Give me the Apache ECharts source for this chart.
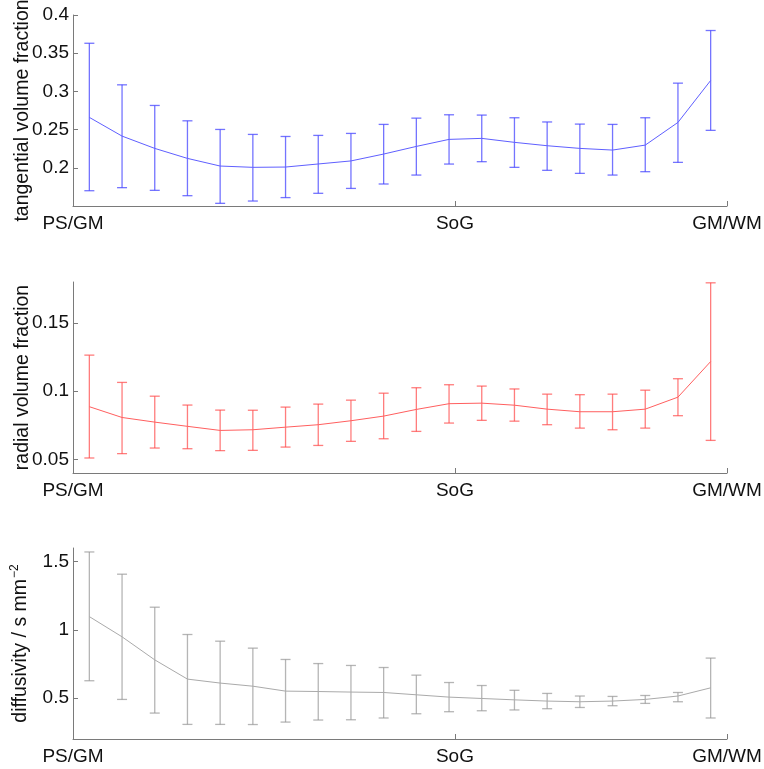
<!DOCTYPE html>
<html>
<head>
<meta charset="utf-8">
<script src="https://cdn.jsdelivr.net/npm/echarts@6/dist/echarts.min.js"></script>
<style>html,body{margin:0;padding:0;background:#fff;}#c{width:764px;height:769px;}</style>
</head>
<body>
<div id="c"></div>
<script>
// positions along the profile (0 = PS/GM, 20 = GM/WM)
const xPos = [0.5,1.5,2.5,3.5,4.5,5.5,6.5,7.5,8.5,9.5,10.5,11.5,12.5,13.5,14.5,15.5,16.5,17.5,18.5,19.5];
const xTickValues = [0, 11.68, 20];
const xTickLabels = ['PS/GM', 'SoG', 'GM/WM'];

const tangMean = [0.266,0.2415,0.2254,0.2123,0.2023,0.2006,0.201,0.205,0.209,0.218,0.228,0.2372,0.2385,0.2333,0.2289,0.2254,0.2232,0.2297,0.2594,0.3143];
const tangLow  = [0.170,0.174,0.1705,0.1635,0.1535,0.1565,0.161,0.1666,0.173,0.1788,0.1905,0.2049,0.208,0.2006,0.1967,0.1927,0.1905,0.1949,0.2071,0.249];
const tangHigh = [0.363,0.3086,0.2816,0.2615,0.2502,0.2437,0.241,0.2424,0.245,0.2568,0.265,0.2694,0.269,0.2655,0.260,0.2572,0.2568,0.2655,0.3108,0.3797];

const radMean = [0.0886,0.0807,0.0773,0.0742,0.0712,0.0717,0.0736,0.0754,0.0783,0.0817,0.0866,0.0908,0.0912,0.0897,0.0868,0.0849,0.0849,0.0868,0.0956,0.1217];
const radLow  = [0.051,0.0542,0.0583,0.0578,0.0564,0.0566,0.059,0.0602,0.0632,0.0651,0.0705,0.0766,0.0786,0.078,0.0754,0.0729,0.0717,0.0729,0.082,0.0639];
const radHigh = [0.1264,0.1064,0.0963,0.0898,0.0861,0.0860,0.0883,0.0905,0.0934,0.0985,0.1025,0.1047,0.1037,0.1016,0.0978,0.0974,0.0978,0.1007,0.1091,0.1794];

const diffMean = [1.097,0.949,0.780,0.639,0.61,0.587,0.551,0.548,0.544,0.541,0.524,0.507,0.497,0.487,0.478,0.473,0.478,0.49,0.515,0.575];
const diffLow  = [0.627,0.49,0.39,0.307,0.307,0.306,0.324,0.339,0.341,0.354,0.385,0.40,0.407,0.413,0.422,0.431,0.444,0.461,0.473,0.354];
const diffHigh = [1.571,1.408,1.166,0.966,0.917,0.866,0.783,0.753,0.739,0.724,0.668,0.614,0.592,0.557,0.534,0.515,0.512,0.519,0.541,0.793];

const tangTicks = [0.2,0.25,0.3,0.35,0.4];
const radTicks = [0.05,0.1,0.15];
const diffTicks = [0.5,1,1.5];

const FONT = 'Liberation Sans, Arial, Helvetica, sans-serif';
const AXC = '#7a7a7a';

const panels = [
  {name:'tangential volume fraction', mean:tangMean, lo:tangLow, hi:tangHigh, ticks:tangTicks, min:0.15, max:0.4,
   line:'rgb(95,95,255)', err:'rgba(70,70,255,0.75)', top:15},
  {name:'radial volume fraction', mean:radMean, lo:radLow, hi:radHigh, ticks:radTicks, min:0.04, max:0.18,
   line:'rgb(255,95,95)', err:'rgba(255,70,70,0.7)', top:282},
  {name:'diffusivity / s mm{sup|−2}', mean:diffMean, lo:diffLow, hi:diffHigh, ticks:diffTicks, min:0.2, max:1.6,
   line:'rgb(170,170,170)', err:'rgba(150,150,150,0.7)', top:548}
];

const grids = [], xAxes = [], yAxes = [], series = [];
panels.forEach((p, i) => {
  grids.push({left:73, right:37, top:p.top, height:191, containLabel:false, outerBoundsMode:'none'});
  xAxes.push({
    type:'value', gridIndex:i, min:0, max:20,
    axisLine:{show:true, lineStyle:{color:AXC, width:1}},
    axisTick:{show:true, inside:true, length:5, customValues:[11.68, 20], lineStyle:{color:AXC}},
    axisLabel:{show:true, customValues:xTickValues, margin:8, color:'#111', fontSize:19, fontFamily:FONT,
      formatter:(v)=>{ let k = 0, d = 1e9; xTickValues.forEach((t,j)=>{ if(Math.abs(t-v)<d){d=Math.abs(t-v);k=j;} }); return xTickLabels[k]; }},
    splitLine:{show:false}
  });
  yAxes.push({
    type:'value', gridIndex:i, min:p.min, max:p.max,
    name:p.name, nameLocation:'middle', nameGap:40, nameMoveOverlap:false,
    nameTextStyle:{color:'#111', fontSize:19.5, fontFamily:FONT,
      rich:{sup:{fontSize:12, fontFamily:FONT, color:'#111', verticalAlign:'top', padding:[0,0,12,1]}}},
    axisLine:{show:true, lineStyle:{color:AXC, width:1}},
    axisTick:{show:true, inside:true, length:5, customValues:p.ticks, lineStyle:{color:AXC}},
    axisLabel:{show:true, customValues:p.ticks, margin:4, color:'#111', fontSize:19, fontFamily:FONT},
    splitLine:{show:false}
  });
  const errData = xPos.map((x,j)=>[x, p.lo[j], p.hi[j]]);
  const errColor = p.err;
  series.push({
    type:'custom', xAxisIndex:i, yAxisIndex:i, data:errData, encode:{x:0, y:[1,2]}, silent:true,
    renderItem:(params, api)=>{
      const x = api.value(0);
      const a = api.coord([x, api.value(1)]);
      const b = api.coord([x, api.value(2)]);
      const hw = 5;
      const st = {stroke:errColor, lineWidth:1.3};
      return {type:'group', children:[
        {type:'line', shape:{x1:a[0], y1:a[1], x2:b[0], y2:b[1]}, style:st},
        {type:'line', shape:{x1:a[0]-hw, y1:a[1], x2:a[0]+hw, y2:a[1]}, style:st},
        {type:'line', shape:{x1:b[0]-hw, y1:b[1], x2:b[0]+hw, y2:b[1]}, style:st}
      ]};
    }
  });
  series.push({
    type:'line', xAxisIndex:i, yAxisIndex:i, data:xPos.map((x,j)=>[x, p.mean[j]]),
    symbol:'none', lineStyle:{color:p.line, width:1}, silent:true, z:3
  });
});

const chart = echarts.init(document.getElementById('c'), null, {renderer:'canvas'});
chart.setOption({animation:false, backgroundColor:'#fff', grid:grids, xAxis:xAxes, yAxis:yAxes, series:series});
</script>
</body>
</html>
